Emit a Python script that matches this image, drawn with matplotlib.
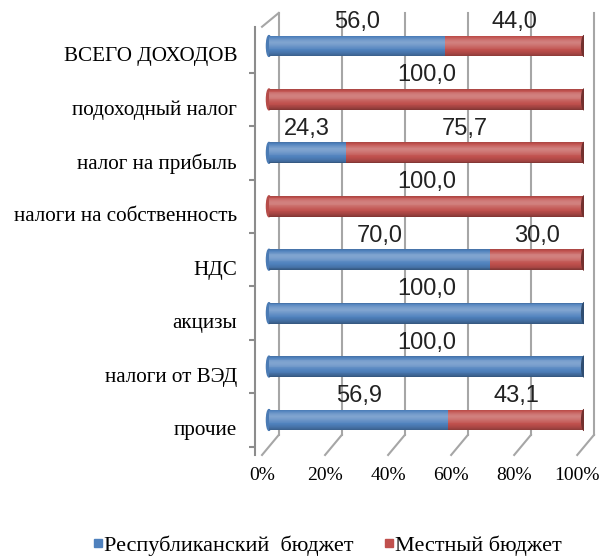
import numpy as np
import matplotlib.pyplot as plt
from matplotlib.colors import to_rgb
from matplotlib.patches import Ellipse

# Данные
categories = ['ВСЕГО ДОХОДОВ', 'подоходный налог', 'налог на прибыль',
              'налоги на собственность', 'НДС', 'акцизы', 'налоги от ВЭД', 'прочие']
respub = [56.0, 0.0, 24.3, 0.0, 70.0, 100.0, 100.0, 56.9]
mestn = [44.0, 100.0, 75.7, 100.0, 30.0, 0.0, 0.0, 43.1]
ticks = [0, 20, 40, 60, 80, 100]
tick_labels = ['0%', '20%', '40%', '60%', '80%', '100%']

blue = '#4F81BD'
red = '#C0504D'
grid_col = '#A6A6A6'

plt.rcParams['font.family'] = ['Liberation Serif', 'DejaVu Serif']

fig = plt.figure(figsize=(6.01, 5.56), dpi=100)
ax = fig.add_axes([0.436, 0.1817, 0.536, 0.795])

n = len(categories)
y = np.arange(n)[::-1]
h = 0.39

# псевдо-3D: сдвиг задней стенки и передней грани (в единицах оси)
back = 3.1
front = -2.2
y_top, y_bot = 7.618, -0.655
y_wall = -0.28


def shade(c, k):
    c = np.array(to_rgb(c))
    if k >= 0:
        return tuple(c + (1 - c) * k)
    return tuple(c * (1 + k))


# сетка на задней стенке + линии пола
for t in ticks:
    ax.plot([t + back, t + back], [y_wall, y_top], color=grid_col, lw=1.5,
            zorder=0, clip_on=False)
    ax.plot([t + back, t + front], [y_wall, y_bot], color=grid_col, lw=1.5,
            zorder=0, clip_on=False)
# верхний левый угол
ax.plot([back, front], [y_top, 7.36], color=grid_col, lw=1.5, clip_on=False)

# цилиндры: полосы с разной яркостью
nstrips = 24
for i in range(nstrips):
    t = (i + 0.5) / nstrips  # 0 низ, 1 верх
    k = 0.28 * np.exp(-((t - 0.68) / 0.25) ** 2) - 0.35 * (abs(t - 0.55) / 0.55) ** 3
    yy = y - h / 2 + i * h / nstrips
    ax.barh(yy, respub, height=h / nstrips, align='edge', color=shade(blue, k),
            linewidth=0, zorder=3)
    ax.barh(yy, mestn, left=respub, height=h / nstrips, align='edge',
            color=shade(red, k), linewidth=0, zorder=3)

# торцы цилиндров
for yi, r, m in zip(y, respub, mestn):
    end = r + m
    col = red if m > 0 else blue
    ax.add_patch(Ellipse((end, yi), 1.6, h, color=shade(col, -0.4), zorder=4))
    start_col = blue if r > 0 else red
    ax.add_patch(Ellipse((0, yi), 1.6, h, color=shade(start_col, -0.05), zorder=2,
                         clip_on=False))

# подписи значений
lab_font = dict(ha='center', va='center', fontsize=17,
                family=['Liberation Sans', 'DejaVu Sans'], color='#222222', zorder=5)
for yi, r, m in zip(y, respub, mestn):
    if r > 0:
        ax.text(r / 2, yi + 0.45, f'{r:.1f}'.replace('.', ','), **lab_font)
    if m > 0:
        ax.text(r + m / 2, yi + 0.45, f'{m:.1f}'.replace('.', ','), **lab_font)

ax.tick_params(axis='y', which='major', length=0, pad=13, labelsize=15.2)
ax.tick_params(axis='y', which='minor', length=4.5, width=1.5, color='#8C8C8C',
               direction='out')
ax.tick_params(axis='x', length=0, pad=9, labelsize=14)

ax.set_xlim(0, 100)
ax.set_ylim(y_bot, y_top)
ax.set_xticks([t + front for t in ticks])
ax.set_xticklabels(tick_labels)
ax.set_yticks(y - 0.15)
ax.set_yticklabels(categories)
ax.set_yticks(np.arange(-1, n - 1) + 0.5, minor=True)

for s in ['top', 'right', 'bottom']:
    ax.spines[s].set_visible(False)
ax.spines['left'].set_position(('outward', 5))
ax.spines['left'].set_bounds(y_bot, 7.36)
ax.spines['left'].set_color('#8C8C8C')
ax.spines['left'].set_linewidth(1.5)

# легенда
handles = [plt.Line2D([], [], marker='s', linestyle='', color=blue, markersize=6),
           plt.Line2D([], [], marker='s', linestyle='', color=red, markersize=6)]
fig.legend(handles, ['Республиканский  бюджет', 'Местный бюджет'],
           loc='center', bbox_to_anchor=(0.53, 0.018), ncol=2, frameon=False,
           prop={'size': 16}, handletextpad=-0.72, columnspacing=0.6)

fig.savefig('out.png', dpi=100)
